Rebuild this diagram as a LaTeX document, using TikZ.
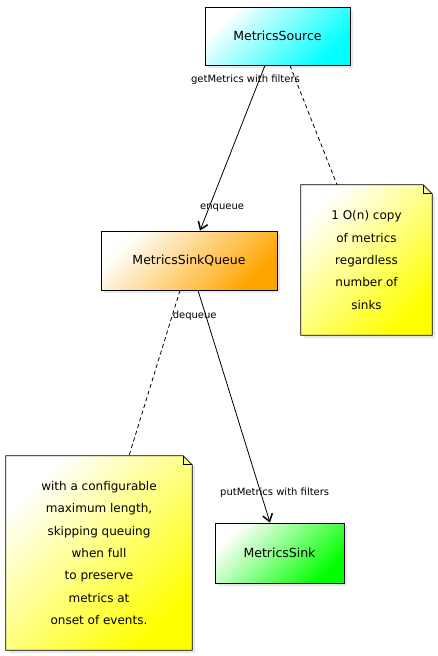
\documentclass[tikz,border=0pt]{standalone}
\usepackage{fontspec}
\setmainfont{DejaVu Sans}
\usetikzlibrary{arrows.meta,calc,shadows,backgrounds}

\definecolor{queueorange}{RGB}{255,165,0}

\tikzset{
    classbox/.style={draw=black, thick, font=\fontsize{12.5}{14}\selectfont,
        drop shadow={opacity=0.18, shadow xshift=3pt, shadow yshift=-3pt}},
    notetext/.style={align=center, font=\fontsize{12}{22.4}\selectfont, inner sep=0pt},
    notebody/.style={draw=black, thick, top color=white, bottom color=yellow, shading angle=45,
        drop shadow={opacity=0.18, shadow xshift=3pt, shadow yshift=-3pt}},
    msgline/.style={thick, -{Straight Barb[length=7pt,width=10pt,line width=1.5pt]}},
    noteline/.style={thick, dash pattern=on 4pt off 3pt},
    msglabel/.style={font=\fontsize{10}{11}\selectfont, inner sep=1pt}
}

\begin{document}
\begin{tikzpicture}[x=1pt, y=-1pt]
    \useasboundingbox (0,0) rectangle (437,656);

    % Classes
    \node[classbox, top color=white, bottom color=cyan, shading angle=45, minimum width=145pt, minimum height=58pt] (source) at (277.5,36) {MetricsSource};
    \node[classbox, top color=white, bottom color=queueorange, shading angle=45, minimum width=176pt, minimum height=59pt] (queue) at (189,260.5) {MetricsSinkQueue};
    \node[classbox, top color=white, bottom color=green, shading angle=45, minimum width=129pt, minimum height=60pt] (sink) at (279.5,553) {MetricsSink};

    % Notes (text)
    \node[notetext, minimum width=131pt, minimum height=150pt] (note1) at (366.5,260) {1 O(n) copy\\of metrics\\regardless\\number of\\sinks};
    \node[notetext, minimum width=186pt, minimum height=194pt] (note2) at (99,553) {with a configurable\\maximum length,\\skipping queuing\\when full\\to preserve\\metrics at\\onset of events.};

    % Notes (outline with folded corner)
    \begin{scope}[on background layer]
        \foreach \n in {note1, note2} {
            \path[notebody] (\n.north west) -- ($(\n.north east)+(-9,0)$) -- ($(\n.north east)+(0,9)$)
                -- (\n.south east) -- (\n.south west) -- cycle;
            \draw[thick] ($(\n.north east)+(-9,0)$) -- ($(\n.north east)+(-9,9)$) -- ($(\n.north east)+(0,9)$);
        }
    \end{scope}

    % Messages
    \draw[msgline] ($(source.south)+(-12.5,0)$) -- ($(queue.north)+(11,0)$)
        node[msglabel, pos=0.085, xshift=-14pt] {getMetrics with filters}
        node[msglabel, pos=0.86, xshift=13pt] {enqueue};
    \draw[msgline] ($(queue.south)+(9,0)$) -- ($(sink.north)+(-9.5,0)$)
        node[msglabel, pos=0.107, xshift=-11pt] {dequeue}
        node[msglabel, pos=0.871, xshift=14pt] {putMetrics with filters};

    % Note links
    \draw[noteline] ($(source.south)+(12.5,0)$) -- ($(note1.north)+(-29.5,0)$);
    \draw[noteline] ($(queue.south)+(-9,0)$) -- ($(note2.north)+(30,0)$);
\end{tikzpicture}
\end{document}
